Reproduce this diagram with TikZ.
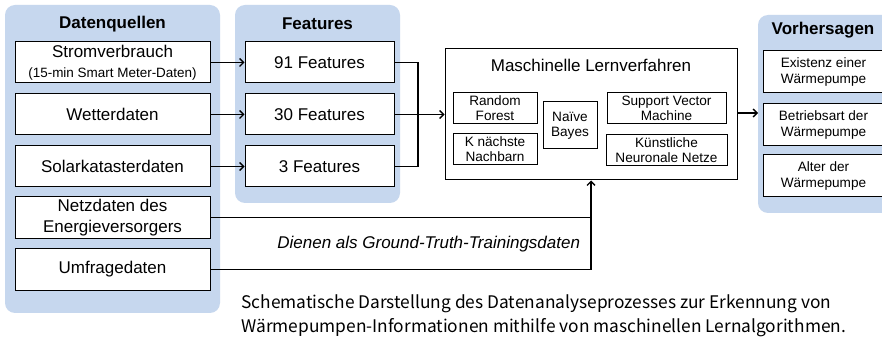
\documentclass[tikz,border=0pt]{standalone}
\usepackage{fontspec}
\setmainfont{Liberation Sans}
\newfontfamily\captionfont{Noto Sans CJK SC}
\usetikzlibrary{arrows.meta}

\definecolor{panelblue}{RGB}{198,215,238}

\tikzset{every picture/.style={line width=0.75pt}}
\tikzset{
	panel/.style={draw=none, fill=panelblue, rounded corners=7.5pt},
	paneltitle/.style={font=\bfseries\fontsize{12.75}{15}\selectfont},
	bigbox/.style={draw, fill=white, align=center, inner sep=0pt, font=\fontsize{12.75}{15.5}\selectfont},
	smallbox/.style={draw, fill=white, align=center, inner sep=0pt, font=\fontsize{10.2}{11.25}\selectfont},
	predbox/.style={draw, fill=white, align=center, inner sep=0pt, font=\fontsize{10.2}{12}\selectfont, minimum width=90.75pt, minimum height=31.5pt},
	link/.style={line width=1pt, -{Straight Barb[length=3pt,width=6pt]}},
	plainlink/.style={line width=1pt}
}

\begin{document}
\begin{tikzpicture}[x=0.75pt,y=0.75pt,yscale=-1,xscale=1]
	\clip (0,0) rectangle (882,338);
	\fill[white] (0,0) rectangle (882,338);

	%Shape: Panels
	\draw [panel] (5,5) rectangle (220,313);
	\draw [panel] (235,5) rectangle (400,203);
	\draw [panel] (758,15) rectangle (895,213);
	\coordinate (predleft) at (758,113);

	% Titles
	\node [paneltitle] (tquellen) at (112.5,24) {Datenquellen};
	\node [paneltitle] (tfeatures) at (317.5,24) {Features};
	\node [paneltitle] (tvorhersagen) at (823,30) {Vorhersagen};

	% Datenquellen
	\node [bigbox, minimum width=146.25pt, minimum height=30.75pt] (strom) at (112.5,62.5) {Stromverbrauch\\[-0.5pt]{\fontsize{10.1}{12}\selectfont (15-min Smart Meter-Daten)}};
	\node [bigbox, minimum width=146.25pt, minimum height=30.75pt] (wetter) at (112.5,114.5) {Wetterdaten};
	\node [bigbox, minimum width=146.25pt, minimum height=30.75pt] (solar) at (112.5,166.5) {Solarkatasterdaten};
	\node [bigbox, minimum width=146.25pt, minimum height=31.5pt] (netz) at (112.5,217.5) {Netzdaten des\\Energieversorgers};
	\node [bigbox, minimum width=146.25pt, minimum height=31.5pt] (umfrage) at (112.5,269.5) {Umfragedaten};

	% Features
	\node [bigbox, minimum width=111.75pt, minimum height=30.75pt] (f91) at (319.5,62.5) {91 Features};
	\node [bigbox, minimum width=111.75pt, minimum height=30.75pt] (f30) at (319.5,114.5) {30 Features};
	\node [bigbox, minimum width=111.75pt, minimum height=30.75pt] (f3) at (319.5,166.5) {3 Features};

	% Maschinelle Lernverfahren
	\node [draw, fill=white, minimum width=219pt, minimum height=98.25pt] (ml) at (591,114.5) {};
	\node [font=\fontsize{12.75}{15}\selectfont] (mltitle) at (591,65) {Maschinelle Lernverfahren};
	\node [smallbox, minimum width=63pt, minimum height=23.25pt] (rf) at (495,108.5) {Random\\Forest};
	\node [smallbox, minimum width=63pt, minimum height=23.25pt] (knn) at (495,149.5) {K n\"achste\\Nachbarn};
	\node [smallbox, minimum width=40.5pt, minimum height=35.25pt] (nb) at (570,125.5) {Na\"ive\\Bayes};
	\node [smallbox, minimum width=89.25pt, minimum height=23.25pt] (svm) at (666.5,108.5) {Support Vector\\Machine};
	\node [smallbox, minimum width=90.75pt, minimum height=23.25pt] (ann) at (666.5,150) {K\"unstliche\\Neuronale Netze};

	% Vorhersagen
	\node [predbox] (existenz) at (823.5,72) {Existenz einer\\W\"armepumpe};
	\node [predbox] (betrieb) at (823.5,124.5) {Betriebsart der\\W\"armepumpe};
	\node [predbox] (alter) at (823.5,176) {Alter der\\W\"armepumpe};

	% Connectors
	\draw [link] (strom.east) -- (f91.west);
	\draw [link] (wetter.east) -- (f30.west);
	\draw [link] (solar.east) -- (f3.west);
	\coordinate (fjoin) at (418,114.5);
	\draw [plainlink] (f91.east) -| (fjoin) |- (f3.east);
	\draw [link] (f30.east) -- (ml.west);
	\draw [link] (ml.east |- predleft) -- (predleft);
	\draw [plainlink] (netz.east) -- (netz.east -| ml.south);
	\draw [link] (umfrage.east) -| (ml.south);

	% Text Node
	\node [anchor=east, font=\itshape\fontsize{12.75}{15}\selectfont] (gtlabel) at (585,244) {Dienen als Ground-Truth-Trainingsdaten};
	% Caption
	\node [anchor=west, align=left, inner sep=0pt, font=\captionfont\fontsize{13}{18}\selectfont] (caption) at (241,316) {Schematische Darstellung des Datenanalyseprozesses zur Erkennung von\\W\"armepumpen-Informationen mithilfe von maschinellen Lernalgorithmen.};
\end{tikzpicture}
\end{document}
